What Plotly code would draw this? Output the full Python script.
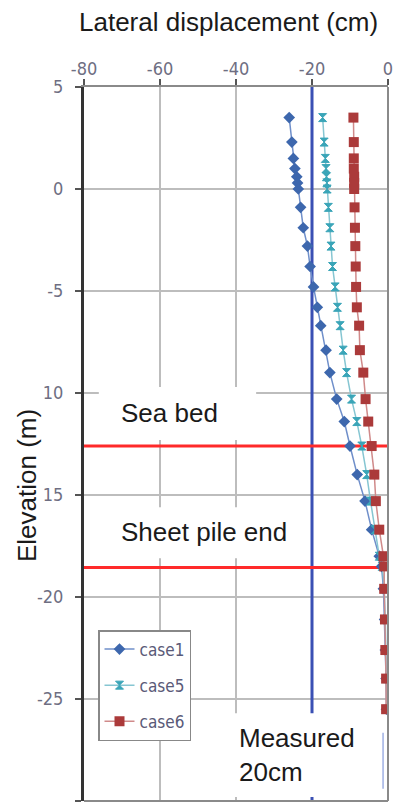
import plotly.graph_objects as go

# ---- data ----
elevation = [3.5, 2.3, 1.5, 1.0, 0.6, 0.3, 0.0, -0.9, -1.9, -2.8, -3.8, -4.8, -5.8, -6.7,
             -7.9, -9.0, -10.3, -11.4, -12.6, -14.0, -15.3, -16.7, -18.0, -18.5, -19.6,
             -21.1, -22.6, -24.0, -25.5]
case1 = [-26.0, -25.3, -24.9, -24.5, -24.0, -23.8, -23.6, -23.0, -22.3, -21.2, -20.5, -19.6,
         -18.6, -17.7, -16.3, -15.3, -13.5, -11.5, -10.0, -8.1, -6.05, -4.3, -2.3, -1.7,
         -1.2, -0.9, -0.7, -0.5, -0.4]
case5 = [-17.2, -16.8, -16.5, -16.3, -16.2, -16.1, -16.0, -15.7, -15.3, -15.0, -14.6, -13.9,
         -13.3, -12.6, -11.8, -10.9, -9.6, -8.2, -6.9, -5.6, -4.6, -3.4, -2.3, -1.5,
         -1.0, -0.7, -0.5, -0.4, -0.3]
case6 = [-9.1, -9.0, -9.0, -9.0, -8.9, -8.9, -8.9, -8.8, -8.7, -8.6, -8.5, -8.4,
         -8.2, -7.6, -7.4, -6.5, -5.9, -5.2, -4.3, -3.6, -3.2, -2.3, -1.2, -1.0,
         -1.0, -0.8, -0.7, -0.5, -0.5]

measured_x = [-20, -20]
measured_y = [5, -30]
sea_bed = -12.6
sheet_pile_end = -18.55

x_tickvals = [-80, -60, -40, -20, 0]
x_ticktext = ["-80", "-60", "-40", "-20", "0"]
y_tickvals = [5, 0, -5, -10, -15, -20, -25, -30]
y_ticktext = ["5", "0", "-5", "10", "15", "-20", "-25", "-30"]

TXT = "Liberation Sans, Arial, sans-serif"
NARROW = "Liberation Sans Narrow, Arial Narrow, DejaVu Sans Condensed, sans-serif"

fig = go.Figure()

# measured line
fig.add_trace(go.Scatter(x=measured_x, y=measured_y, mode="lines",
                         line=dict(color="#3a50b4", width=3), showlegend=False, hoverinfo="skip"))
# sea bed / sheet pile end
for lvl in (sea_bed, sheet_pile_end):
    fig.add_trace(go.Scatter(x=[-80, 0], y=[lvl, lvl], mode="lines",
                             line=dict(color="#ff2a2a", width=3), showlegend=False, hoverinfo="skip"))

fig.add_trace(go.Scatter(x=case1, y=elevation, mode="lines+markers", name="case1",
                         legendgroup="a",
                         line=dict(color="#6f8fca", width=1.5),
                         marker=dict(symbol="diamond", size=9, color="#3d67ad")))
fig.add_trace(go.Scatter(x=case5, y=elevation, mode="lines+markers", name="case5",
                         legendgroup="b",
                         line=dict(color="#86c6d2", width=1.5),
                         marker=dict(symbol="hourglass", size=8, color="#3aa5b8",
                                     line=dict(color="#3aa5b8", width=1))))
fig.add_trace(go.Scatter(x=case6, y=elevation, mode="lines+markers", name="case6",
                         legendgroup="c",
                         line=dict(color="#d08a8a", width=1.5),
                         marker=dict(symbol="square", size=10, color="#ab3a3a")))

shapes = [
    # white text boxes covering the grid
    dict(type="rect", xref="x", yref="y", x0=-76.1, x1=-34.7, y0=-9.7, y1=-12.3,
         fillcolor="white", line=dict(width=0), layer="above"),
    dict(type="rect", xref="x", yref="y", x0=-76.1, x1=-24.5, y0=-15.6, y1=-18.1,
         fillcolor="white", line=dict(width=0), layer="above"),
    dict(type="rect", xref="x", yref="y", x0=-42.9, x1=-2.0, y0=-25.7, y1=-29.8,
         fillcolor="white", line=dict(width=0), layer="above"),
    # thin light-blue stroke at right of the measured box
    dict(type="line", xref="x", yref="y", x0=-1.3, x1=-1.3, y0=-26.65, y1=-29.4,
         line=dict(color="#9fb0e4", width=1.5), layer="above"),
    # right and bottom borders
    dict(type="line", xref="paper", yref="paper", x0=1, x1=1, y0=0, y1=1,
         line=dict(color="#8a8a8a", width=2), layer="above"),
    dict(type="line", xref="paper", yref="paper", x0=0, x1=1, y0=0, y1=0,
         line=dict(color="#8a8a8a", width=2), layer="above"),
]

annotations = [
    dict(text="Lateral displacement (cm)", xref="paper", yref="paper",
         x=0.475, y=(801 - 22) / 714, xanchor="center", yanchor="middle", showarrow=False,
         font=dict(family=TXT, size=26, color="#1a1a1a")),
    dict(text="Elevation (m)", xref="paper", yref="paper", textangle=-90,
         x=(27 - 84) / 304, y=(801 - 486) / 714, xanchor="center", yanchor="middle",
         showarrow=False, font=dict(family=TXT, size=26, color="#1a1a1a")),
    dict(text="Sea bed", xref="x", yref="y", x=-70.8, y=-11.0, xanchor="left",
         yanchor="middle", showarrow=False, font=dict(family=TXT, size=26, color="#1a1a1a")),
    dict(text="Sheet pile end", xref="x", yref="y", x=-70.8, y=-16.8, xanchor="left",
         yanchor="middle", showarrow=False, font=dict(family=TXT, size=26, color="#1a1a1a")),
    dict(text="Measured<br>20cm", xref="x", yref="y", x=-39.7, y=-27.75, xanchor="left",
         yanchor="middle", align="left", showarrow=False,
         font=dict(family=TXT, size=26, color="#1a1a1a")),
]

fig.update_layout(
    width=396, height=810,
    margin=dict(l=84, r=8, t=87, b=9),
    paper_bgcolor="white", plot_bgcolor="white",
    shapes=shapes, annotations=annotations,
    xaxis=dict(range=[-80, 0], side="top", tickvals=x_tickvals, ticktext=x_ticktext,
               automargin=False,
               showgrid=True, gridcolor="#bdbdbd", gridwidth=1.5, zeroline=False,
               showline=True, linecolor="#8a8a8a", linewidth=2,
               ticks="outside", ticklen=6, tickcolor="#555", tickwidth=1.5,
               ticklabelstandoff=-3,
               tickfont=dict(family=NARROW, size=18, color="#6e6e82")),
    yaxis=dict(range=[-30, 5], tickvals=y_tickvals, ticktext=y_ticktext,
               automargin=False,
               showgrid=True, gridcolor="#bdbdbd", gridwidth=1.5, zeroline=False,
               showline=True, linecolor="#333333", linewidth=3,
               ticks="outside", ticklen=6, tickcolor="#555", tickwidth=1.5,
               ticklabelstandoff=8,
               tickfont=dict(family=NARROW, size=18, color="#6e6e82")),
    legend=dict(x=(98 - 84) / 304, y=(801 - 630) / 714, xanchor="left", yanchor="top",
                bgcolor="white", bordercolor="#888888", borderwidth=1.5,
                tracegroupgap=11,
                font=dict(family=NARROW, size=17, color="#5a5a78")),
    showlegend=True,
)

fig.write_html("out.html")
